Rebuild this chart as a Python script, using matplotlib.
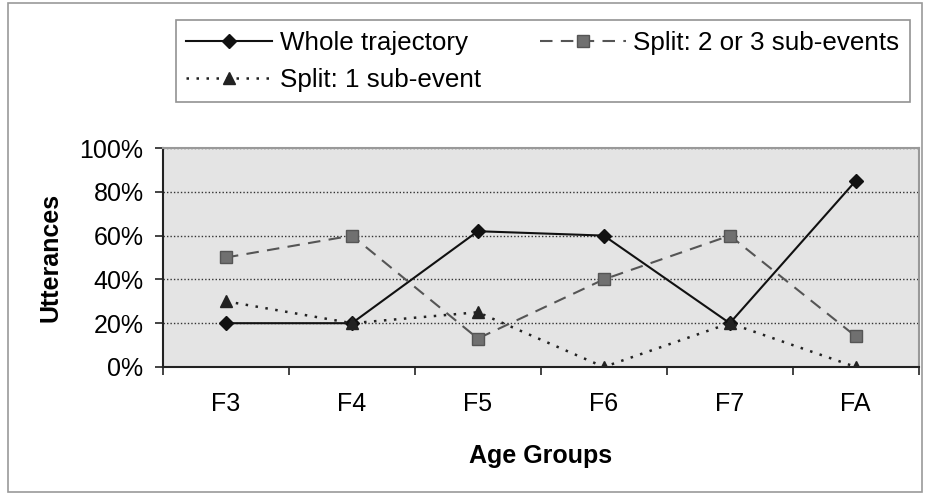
import matplotlib
matplotlib.use("Agg")
import matplotlib.pyplot as plt
from matplotlib.patches import Rectangle

plt.rcParams['font.family'] = ['Liberation Sans', 'DejaVu Sans']

groups = ["F3", "F4", "F5", "F6", "F7", "FA"]
whole = [20, 20, 62, 60, 20, 85]
split23 = [50, 60, 13, 40, 60, 14]
split1 = [30, 20, 25, 0, 20, 0]
yticks = [0, 20, 40, 60, 80, 100]

FS = 18

fig = plt.figure(figsize=(9.28, 4.95), dpi=100)
fig.patch.set_facecolor("white")
fig.add_artist(Rectangle((8 / 928, 3 / 495), 914 / 928, 489 / 495, transform=fig.transFigure,
                         fill=False, edgecolor="#9a9a9a", lw=1.2))

ax = fig.add_axes([0.1756, 0.2586, 0.8144, 0.4424])
ax.set_facecolor("#e4e4e4")
x = list(range(len(groups)))
l1, = ax.plot(x, whole, color="#111111", lw=1.5, marker="D", markersize=7,
              label="Whole trajectory")
l3, = ax.plot(x, split23, color="#555555", lw=1.5, ls=(0, (6, 4)), marker="s",
              markersize=8, markerfacecolor="#707070", markeredgecolor="#555555",
              label="Split: 2 or 3 sub-events")
l2, = ax.plot(x, split1, color="#222222", lw=1.8, ls=(0, (1, 3)), marker="^",
              markersize=8, label="Split: 1 sub-event")

ax.set_xlim(-0.5, len(groups) - 0.5)
ax.set_ylim(0, 100)
ax.set_yticks(yticks)
ax.set_yticklabels([f"{v}%" for v in yticks], fontsize=FS)
ax.set_xticks(x)
ax.set_xticklabels(groups, fontsize=FS)
ax.tick_params(axis="x", length=0, pad=18)
ax.set_xticks([i - 0.5 for i in range(len(groups) + 1)], minor=True)
ax.tick_params(axis="x", which="minor", length=6, width=1.2, color="#222222")
ax.tick_params(axis="y", length=6, width=1.2, color="#222222", pad=8)
for v in yticks[1:]:
    ax.axhline(v, color="#333333", lw=1, ls=(0, (1, 1.5)), zorder=0.5)
for side in ["left", "bottom"]:
    ax.spines[side].set_color("#222222")
    ax.spines[side].set_linewidth(1.5)
for side in ["top", "right"]:
    ax.spines[side].set_color("#999999")
    ax.spines[side].set_linewidth(1.5)

ax.set_ylabel("Utterances", fontsize=FS, fontweight="bold", labelpad=12)
ax.set_xlabel("Age Groups", fontsize=FS, fontweight="bold", labelpad=20)

leg = fig.legend(handles=[l1, l2, l3], ncol=2, loc="lower left",
                 bbox_to_anchor=(176 / 928, 1 - 102 / 495, 734 / 928, 88 / 495),
                 mode="expand", fontsize=18.7, handlelength=3.3, frameon=True,
                 fancybox=False, edgecolor="#777777", borderpad=0.4,
                 labelspacing=0.5, handletextpad=0.3, borderaxespad=0)
leg.get_frame().set_linewidth(1.2)

fig.savefig("out.png", dpi=100, facecolor="white")
